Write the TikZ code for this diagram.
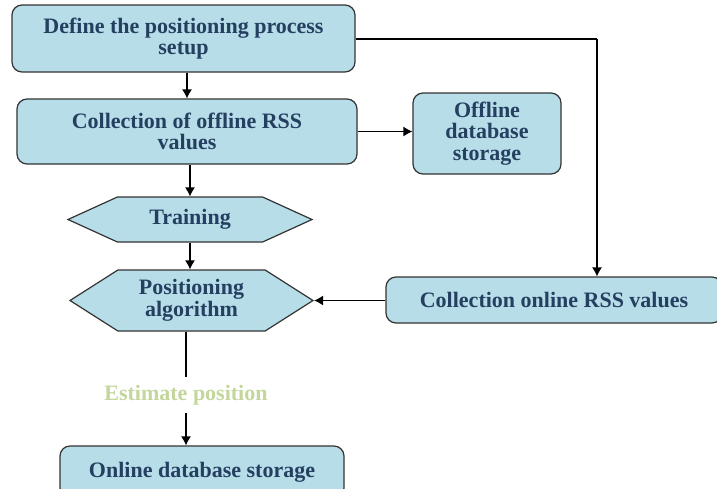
\documentclass[tikz,border=0pt]{standalone}
\usepackage{fontspec}
\setmainfont{Liberation Serif}
\usepackage{xcolor}
\usetikzlibrary{shapes.symbols,arrows.meta}

\definecolor{boxfill}{HTML}{B7DDE8}
\definecolor{boxtext}{HTML}{243F60}
\definecolor{estgreen}{HTML}{C3D69B}

\begin{document}
\begin{tikzpicture}[x=1pt,y=-1pt,
            >={Latex[length=9pt,width=10pt]},
            rbox/.style={draw=black!80, line width=1.2pt, fill=boxfill, rounded corners=10pt,
                         align=center, text=boxtext, font=\fontsize{22}{21.5}\selectfont\bfseries, inner sep=0pt},
            hexa/.style={draw=black!80, line width=1.2pt, fill=boxfill, shape=signal, signal to=west and east,
                         align=center, text=boxtext, font=\fontsize{22}{21.5}\selectfont\bfseries, inner sep=0pt},
            flow/.style={line width=1.2pt}]
        \useasboundingbox (0,0) rectangle (717,488);

        \node[rbox, minimum width=343pt, minimum height=67pt] (setup) at (183.5,38.5) {Define the positioning process\\setup};
        \node[rbox, minimum width=340pt, minimum height=65pt] (offcoll) at (187,131.5) {Collection of offline RSS\\values};
        \node[rbox, minimum width=148pt, minimum height=81pt] (offdb) at (487,133.5) {Offline\\database\\storage};
        \node[rbox, minimum width=336pt, minimum height=46pt] (oncoll) at (554,300) {Collection online RSS values};
        \node[hexa, minimum width=244pt, minimum height=45pt, signal pointer angle=49] (train) at (190,219.5) {Training};
        \node[hexa, minimum width=243pt, minimum height=61pt, signal pointer angle=65] (posalg) at (191.5,300.5) {Positioning\\algorithm};
        \node[text=estgreen, font=\fontsize{22}{21.5}\selectfont\bfseries, inner sep=8pt] (estim) at (186,395) {Estimate position};
        \node[rbox, minimum width=284pt, minimum height=52pt] (ondb) at (202,472) {Online database storage};

        \coordinate (bend) at (597,39);

        \draw[flow,->] (setup.south -| offcoll.north) -- (offcoll.north);
        \draw[flow,->] (offcoll.east) -- (offcoll.east -| offdb.west);
        \draw[flow,->] (offcoll.south -| train.north) -- (train.north);
        \draw[flow,->] (train.south) -- (train.south |- posalg.north);
        \draw[flow] (setup.east |- bend) -- (bend);
        \draw[flow,->] (bend) -- (bend |- oncoll.north);
        \draw[flow,->] (oncoll.west |- posalg.east) -- (posalg.east);
        \draw[flow] (posalg.south -| estim.north) -- (estim.north);
        \draw[flow,->] (estim.south) -- (estim.south |- ondb.north);
    \end{tikzpicture}
\end{document}
